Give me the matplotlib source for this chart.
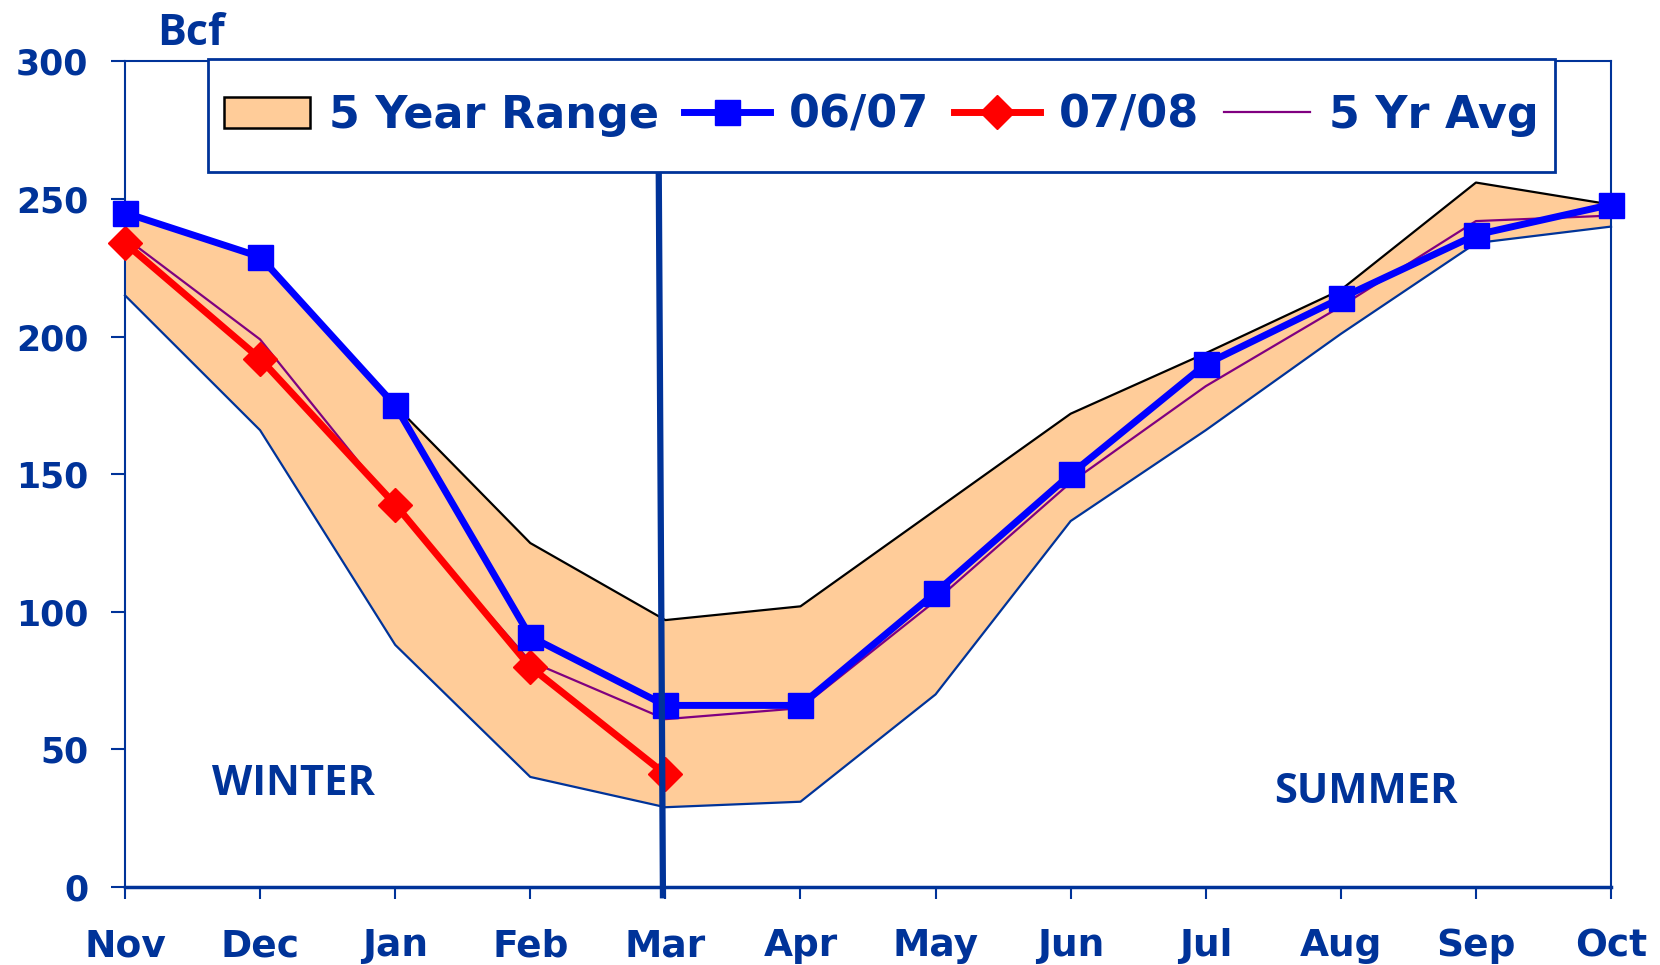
import matplotlib
matplotlib.use("Agg")
from matplotlib import pyplot as plt
from matplotlib.patches import Patch, Rectangle
from matplotlib.lines import Line2D

# donnees (Bcf)
mois = ["Nov", "Dec", "Jan", "Feb", "Mar", "Apr", "May", "Jun", "Jul", "Aug", "Sep", "Oct"]
range_haut = [245, 229, 175, 125, 97, 102, 137, 172, 194, 217, 256, 248]
range_bas = [215, 166, 88, 40, 29, 31, 70, 133, 166, 201, 234, 240]
serie_0607 = [245, 229, 175, 91, 66, 66, 107, 150, 190, 214, 237, 248]
serie_0708 = [234, 192, 139, 80, 41]
moy_5ans = [236, 199, 138, 82, 61, 65, 104, 147, 182, 211, 242, 244]
y_ticks = [0, 50, 100, 150, 200, 250, 300]

BLEU = "#003399"
VERDANA = "DejaVu Sans"
FRUTIGER = "Open Sans"

fig = plt.figure(figsize=(16.6, 9.65), dpi=100)
ax = fig.add_axes([0.0753, 0.0808, 0.8952, 0.8555])

x = list(range(len(mois)))

# zone 5 ans
ax.fill_between(x, range_bas, range_haut, facecolor="#FFCC99", edgecolor="none", zorder=1)
ax.plot(x, range_haut, color="black", lw=1.6, zorder=2, clip_on=False)
ax.plot(x, range_bas, color=BLEU, lw=1.6, zorder=2, clip_on=False)

ax.plot(x, moy_5ans, color="#800080", lw=1.6, zorder=3, clip_on=False)
ax.plot(x[:len(serie_0708)], serie_0708, color="#FF0000", lw=5, marker="D", ms=17,
        zorder=3, clip_on=False)
ax.plot(x, serie_0607, color="#0000FF", lw=5, marker="s", ms=18, zorder=3, clip_on=False)

# separation hiver / ete (legerement penchee comme sur l'original)
ax.plot([3.95, 3.982], [268, -3], color=BLEU, lw=4.5, zorder=4, clip_on=False)

ax.set_xlim(0, 11)
ax.set_ylim(0, 300)
ax.set_xticks(x)
ax.set_xticklabels(mois, fontsize=27, fontweight="bold", color=BLEU, family=VERDANA)
ax.set_yticks(y_ticks)
ax.set_yticklabels([str(v) for v in y_ticks], fontsize=25, fontweight="bold", color=BLEU,
                   family=VERDANA)
ax.tick_params(axis="y", direction="out", length=10, width=1.5, color=BLEU, pad=16.5)
ax.tick_params(axis="x", direction="out", length=8.6, width=1.5, color=BLEU, pad=21)
for cote in ["left", "right", "top"]:
    ax.spines[cote].set_color(BLEU)
    ax.spines[cote].set_linewidth(1.5)
ax.spines["bottom"].set_color(BLEU)
ax.spines["bottom"].set_linewidth(2.5)

ax.text(0.49, 306, "Bcf", fontsize=31, fontweight="bold", color=BLEU, family=FRUTIGER,
        ha="center", va="baseline", clip_on=False)
ax.text(1.247, 33.4, "WINTER", fontsize=30, fontweight="bold", color=BLEU, family=FRUTIGER,
        ha="center", va="baseline")
ax.text(9.186, 30.5, "SUMMER", fontsize=30, fontweight="bold", color=BLEU, family=FRUTIGER,
        ha="center", va="baseline")

# cadre de la legende
boite = (0.0559, 0.8666, 0.9065, 0.136)
ax.add_patch(Rectangle(boite[:2], boite[2], boite[3], transform=ax.transAxes,
                       facecolor="white", edgecolor=BLEU, lw=2, zorder=5, clip_on=False))

poignees = [
    Patch(facecolor="#FFCC99", edgecolor="black", lw=1.8),
    Line2D([], [], color="#0000FF", lw=5, marker="s", ms=18),
    Line2D([], [], color="#FF0000", lw=5, marker="D", ms=17),
    Line2D([], [], color="#800080", lw=1.6),
]
noms = ["5 Year Range", "06/07", "07/08", "5 Yr Avg"]
leg = ax.legend(poignees, noms, ncol=4, loc="center", mode="expand",
                bbox_to_anchor=boite,
                prop={"family": VERDANA, "weight": "bold", "size": 32},
                handlelength=1.94, handletextpad=0.43, columnspacing=0.6,
                borderpad=0.36, frameon=False, borderaxespad=0)
for t in leg.get_texts():
    t.set_color(BLEU)
leg.set_zorder(6)

plt.savefig("out.png", dpi=100)
